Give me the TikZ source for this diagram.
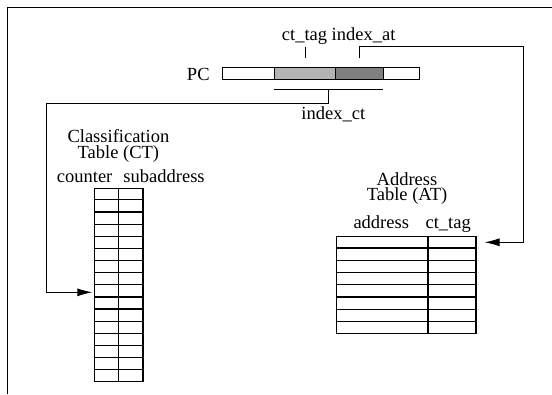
\documentclass[tikz,border=0pt]{standalone}
\usepackage{fontspec}
\setmainfont{Liberation Serif}
\usetikzlibrary{arrows.meta,calc}
\definecolor{lightbar}{HTML}{B4B4B4}
\definecolor{darkbar}{HTML}{808080}
\begin{document}
\begin{tikzpicture}[x=1pt,y=-1pt,
  lbl/.style={font=\fontsize{18.5}{19}\selectfont, inner sep=0pt, text height=11.5pt, text depth=3.5pt},
  title/.style={font=\fontsize{18.5}{15.6}\selectfont, inner sep=0pt, align=center},
  seg/.style={draw, line width=1pt, minimum height=12.6pt, inner sep=0pt, anchor=north west},
  wire/.style={line width=0.9pt},
  arr/.style={wire, -{Latex[length=15pt,width=8pt]}},
  tbl/.style={draw, line width=1.2pt, inner sep=0pt, anchor=north west},
  rowline/.style={line width=1.2pt}]
\useasboundingbox (0,0) rectangle (552,394);
% frame
\draw[line width=1pt] (7,394) -- (7,7) -- (552,7);

% PC register
\node[lbl, anchor=base] (pclbl) at (198.3,80) {PC};
\node[seg, minimum width=52.6pt, fill=white] (pc1) at (221.7,66.7) {};
\node[seg, minimum width=60.4pt, fill=lightbar] (pc2) at (274.3,66.7) {};
\node[seg, minimum width=48.6pt, fill=darkbar] (pc3) at (334.7,66.7) {};
\node[seg, minimum width=36pt, fill=white] (pc4) at (383.3,66.7) {};

\node[lbl, anchor=base west] (toplbl) at (281.7,40) {ct\_tag index\_at};
\node[lbl, anchor=base] (ictlbl) at (333.3,119) {index\_ct};

% Classification table
\node[title, anchor=base] (cttitle) at (118.4,158.3) {Classification\\Table (CT)};
\node[lbl, anchor=base west] (ctcols) at (56.7,182.7) {counter\hspace{0.6em}subaddress};
\node[tbl, minimum width=48.3pt, minimum height=193pt] (ct) at (94,187.7) {};
\draw[rowline] ($(ct.north west)!0.5!(ct.north east)$) -- ($(ct.south west)!0.5!(ct.south east)$);
\foreach \i in {1,...,15}
  \draw[rowline] ($(ct.north west)!\i/16!(ct.south west)$) -- ($(ct.north east)!\i/16!(ct.south east)$);

% Address table
\node[title, anchor=base] (attitle) at (407,200.7) {Address\\Table (AT)};
\node[lbl, anchor=base west] (atcols) at (353.3,228.3) {address\hspace{0.9em}ct\_tag};
\node[tbl, minimum width=139.6pt, minimum height=97pt] (at) at (335.7,235.7) {};
\draw[rowline] ($(at.north west)!0.656!(at.north east)$) -- ($(at.south west)!0.656!(at.south east)$);
\foreach \i in {1,...,7}
  \draw[rowline] ($(at.north west)!\i/8!(at.south west)$) -- ($(at.north east)!\i/8!(at.south east)$);

% connectors
\coordinate (tagtop) at ([yshift=20pt]pc2.north);
\coordinate (tagbot) at ([yshift=8.4pt]pc2.north);
\draw[wire] (tagbot) -- (tagtop);

\coordinate (iatbot) at ([yshift=8.4pt]pc3.north);
\coordinate (atin) at ($(at.north east)+(8,6.6)$);
\draw[arr] (iatbot) |- (523,46.7) |- (atin);

\coordinate (ictl) at ([yshift=-9pt]pc2.south west);
\coordinate (ictr) at ([yshift=-9pt]pc4.south west);
\draw[wire] (ictl) -- (ictr);
\coordinate (ictmid) at ($(ictl)!0.5!(ictr)$);
\coordinate (ctin) at ($(ct.north west)+(-1.7,104.6)$);
\draw[arr] (ictmid) -- ++(0,14) -| (46,292.3) -- (ctin);
\end{tikzpicture}
\end{document}
